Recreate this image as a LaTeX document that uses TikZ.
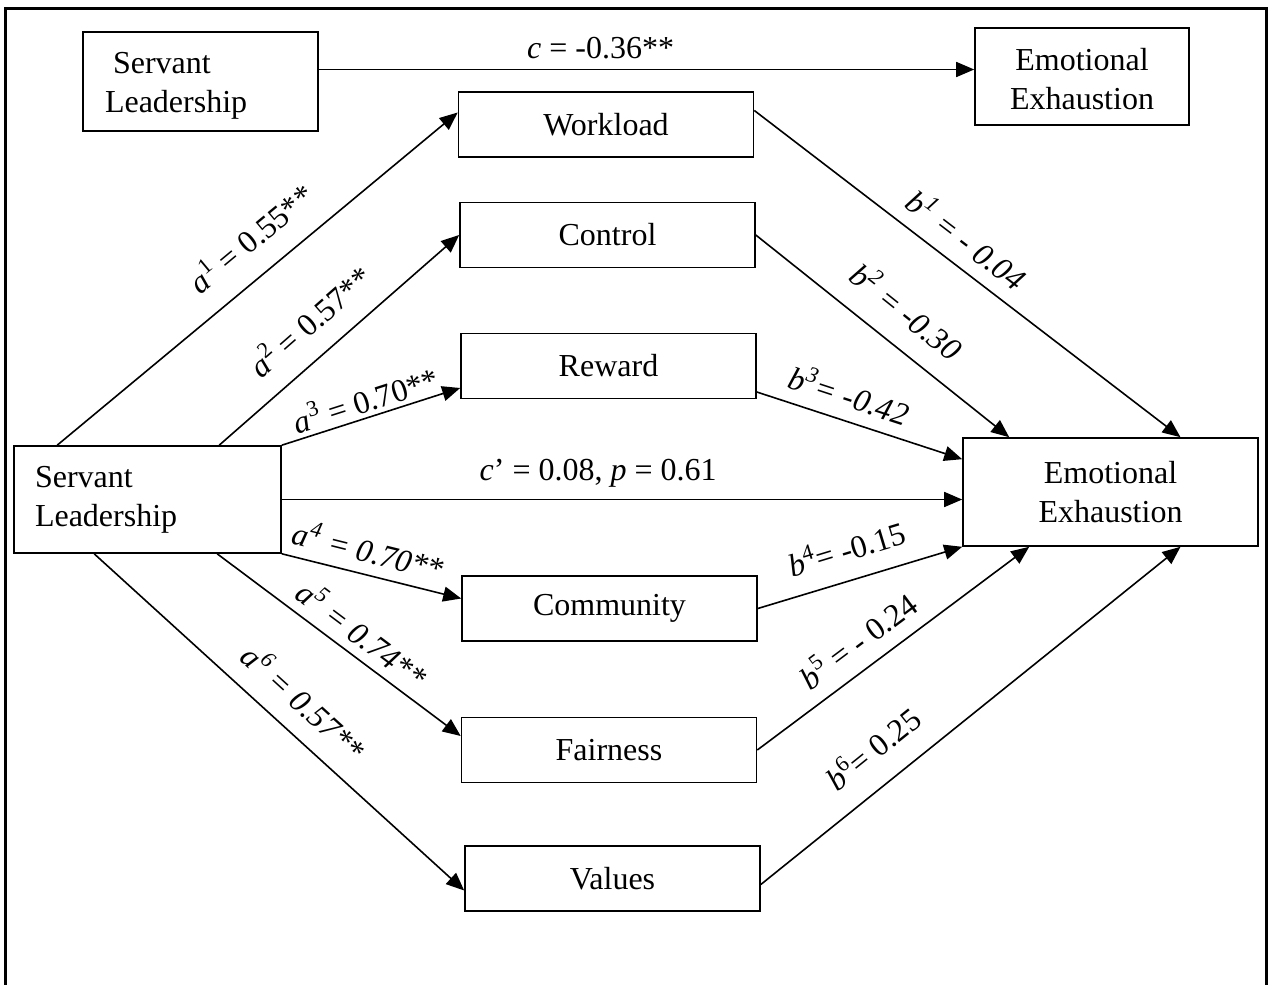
\documentclass[tikz,border=0pt]{standalone}
\usepackage{fontspec}
\setmainfont{Liberation Serif}
\usetikzlibrary{arrows.meta, positioning, calc}

\tikzset{
  box/.style={draw, line width=0.8pt, inner sep=0pt, minimum width=147.5pt, minimum height=32.5pt},
  arr/.style={-{Triangle[length=9pt, width=7.5pt]}, line width=0.8pt},
  lbl/.style={sloped, inner sep=1pt},
}

\begin{document}
\begin{tikzpicture}[x=0.5pt, y=-0.5pt, font=\fontsize{16}{19.5}\selectfont]
  \useasboundingbox (0,0) rectangle (1270,985);
  % Frame (open at the bottom)
  \draw[line width=1.5pt] (5,1000) -- (5,8) -- (1266,8) -- (1266,1000);

  % Total effect (top)
  \node[draw, line width=0.8pt, inner xsep=11pt, text width=95.5pt, minimum height=49.5pt, align=left] (tsl) at (200.5,81.5) {\rule{0pt}{15pt}\hspace*{4pt}Servant\\Leadership};
  \node[draw, line width=0.8pt, minimum width=107pt, minimum height=48.5pt, align=center] (tee) at (1082,76.5) {\rule{0pt}{14pt}Emotional\\Exhaustion};
  \draw[arr] ([yshift=6pt]tsl.east) -- ([yshift=6pt]tsl.east -| tee.west)
    node[lbl, above=4pt, pos=0.43] {\textit{c} = -0.36**};

  % Predictor and outcome
  \node[draw, line width=0.8pt, inner xsep=10.5pt, text width=112.5pt, minimum height=53.5pt, align=left] (sl) at (147.5,499.5) {Servant\\Leadership};
  \node[draw, line width=0.8pt, minimum width=147.5pt, minimum height=54pt, align=center] (ee) at (1110.5,492) {Emotional\\Exhaustion};

  % Mediators
  \foreach \n/\t/\x/\y in {work/Workload/606/124.5, ctrl/Control/607.5/235, rew/Reward/608.5/366,
                           comm/Community/609.5/608.5, fair/Fairness/609/750, val/Values/612.5/878.5}{
    \node[box] (\n) at (\x,\y) {\t};
  }

  % a paths
  \draw[arr] ([xshift=22pt]sl.north west) -- ([yshift=6pt]work.west)
    node[lbl, above=10pt, pos=0.54] {\textit{a}\textsuperscript{1} = 0.55**};
  \draw[arr] ([xshift=103pt]sl.north west) -- (ctrl.west)
    node[lbl, above=9pt, pos=0.47] {\textit{a}\textsuperscript{2} = 0.57**};
  \draw[arr] (sl.north east) -- ([yshift=-11pt]rew.west)
    node[lbl, above=1pt, pos=0.5] {\textit{a}\textsuperscript{3} = 0.70**};
  \draw[arr] (sl.south east) -- ([yshift=5pt]comm.west)
    node[lbl, above=4.5pt, pos=0.45] {\textit{a\textsuperscript{4} = 0.70**}};
  \draw[arr] ([xshift=102pt]sl.south west) -- ([yshift=7pt]fair.west)
    node[lbl, above=3.5pt, pos=0.54] {\textit{a\textsuperscript{5} = 0.74**}};
  \draw[arr] ([xshift=40.5pt]sl.south west) -- ([yshift=-6pt]val.west)
    node[lbl, above=8pt, pos=0.51] {\textit{a\textsuperscript{6} = 0.57**}};

  % Direct effect
  \draw[arr] (sl.east) -- (sl.east -| ee.west)
    node[lbl, above=4.5pt, pos=0.465] {\textit{c}' = 0.08, \textit{p} = 0.61};

  % b paths
  \draw[arr] ([yshift=7pt]work.east) -- ([xshift=35pt]ee.north)
    node[lbl, above=5.5pt, pos=0.46] {\textit{b\textsuperscript{1} = - 0.04}};
  \draw[arr] (ctrl.east) -- ([xshift=23.5pt]ee.north west)
    node[lbl, above=9.5pt, pos=0.51] {\textit{b\textsuperscript{2} = -0.30}};
  \draw[arr] ([yshift=-13pt]rew.east) -- ([yshift=-11pt]ee.north west)
    node[lbl, above=5pt, pos=0.41] {\textit{b\textsuperscript{3}= -0.42}};
  \draw[arr] (comm.east) -- (ee.south west)
    node[lbl, above=8pt, pos=0.48] {\textit{b}\textsuperscript{4}= -0.15};
  \draw[arr] (fair.east) -- ([xshift=33.5pt]ee.south west)
    node[lbl, above=6pt, pos=0.43] {\textit{b}\textsuperscript{5} = - 0.24};
  \draw[arr] ([yshift=-3pt]val.east) -- ([xshift=35pt]ee.south)
    node[lbl, above=10pt, pos=0.32] {\textit{b}\textsuperscript{6}= 0.25};
\end{tikzpicture}
\end{document}
